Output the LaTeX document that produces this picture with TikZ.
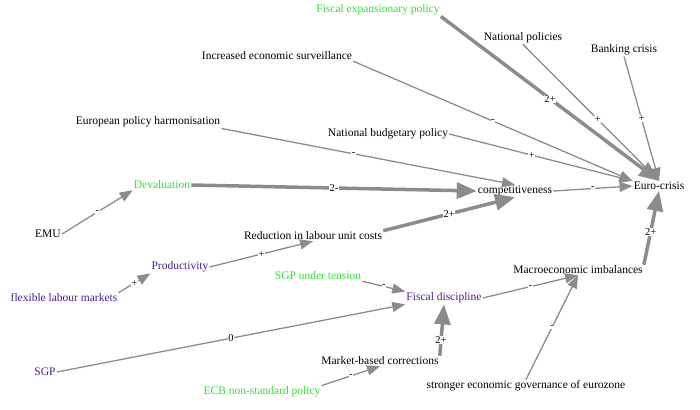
\documentclass[tikz,border=0pt]{standalone}
\usepackage{fontspec}
\setmainfont{Liberation Serif}
\usetikzlibrary{arrows.meta}
\definecolor{gr}{HTML}{33DD33}
\definecolor{pu}{HTML}{4B1A8C}
\definecolor{eg}{HTML}{8C8C8C}
\begin{document}
\begin{tikzpicture}[x=1pt,y=-1pt,
  n/.style={font=\fontsize{11.5}{13}\selectfont,inner sep=1pt},
  g/.style={n,text=gr}, p/.style={n,text=pu},
  e/.style={draw=eg,line width=1.3pt,-{Triangle[length=13pt,width=10pt]}},
  t/.style={draw=eg,line width=3.5pt,-{Triangle[length=20pt,width=16pt]}},
  l/.style={font=\fontsize{10.5}{11}\selectfont,fill=white,inner sep=0.5pt,text=black}]
\useasboundingbox (0,0) rectangle (700,409);
\node[g] (fe) at (378,10) {Fiscal expansionary policy};
\node[n] (np) at (523,38) {National policies};
\node[n] (bc) at (624,50) {Banking crisis};
\node[n] (ie) at (277,56) {Increased economic surveillance};
\node[n] (eh) at (148,122) {European policy harmonisation};
\node[n] (nb) at (388,134) {National budgetary policy};
\node[g] (de) at (162,185) {Devaluation};
\node[n] (co) at (515,191) {competitiveness};
\node[n] (ec) at (659,186) {Euro-crisis};
\node[n] (emu) at (48,234) {EMU};
\node[n] (rl) at (313,236) {Reduction in labour unit costs};
\node[p] (pr) at (180,267) {Productivity};
\node[g] (st) at (318,276) {SGP under tension};
\node[p] (fd) at (444,298) {Fiscal discipline};
\node[n] (mi) at (578,270) {Macroeconomic imbalances};
\node[p] (fl) at (64,298) {flexible labour markets};
\node[p] (sgp) at (45,372) {SGP};
\node[n] (mb) at (380,361) {Market-based corrections};
\node[g] (ecb) at (262,392) {ECB non-standard policy};
\node[n] (sg) at (526,386) {stronger economic governance of eurozone};
\draw[t] (fe.south east) -- node[l]{2+} (ec.north);
\draw[e] (np.south) -- node[l,pos=0.55]{+} (ec.north);
\draw[e] (bc.south) -- node[l]{+} (ec.north);
\draw[e] (ie.south east) -- node[l]{-} (ec.north west);
\draw[e] (eh.south east) -- node[l,pos=0.45]{-} (co.north);
\draw[e] (nb.east) -- node[l,pos=0.45]{+} (ec.north west);
\draw[t] (de.east) -- node[l]{2-} (co.west);
\draw[e] (co.east) -- node[l]{-} (ec.west);
\draw[e] (emu.east) -- node[l]{-} (de.south west);
\draw[t] (rl.north east) -- node[l]{2+} (co.south);
\draw[e] (pr.east) -- node[l]{+} (rl.south);
\draw[e] (fl.north east) -- node[l]{+} (pr.south west);
\draw[e] (st.south east) -- node[l]{-} (fd.north west);
\draw[e] (sgp.east) -- node[l]{0} (fd.south west);
\draw[t] (mb.north east) -- node[l,pos=0.3]{2+} (fd.south);
\draw[e] (ecb.north east) -- node[l]{-} (mb.south);
\draw[e] (fd.east) -- node[l]{-} (mi.south);
\draw[t] (mi.north east) -- node[l,pos=0.45]{2+} (ec.south);
\draw[e] (sg.north) -- node[l]{-} (mi.south);
\end{tikzpicture}
\end{document}
